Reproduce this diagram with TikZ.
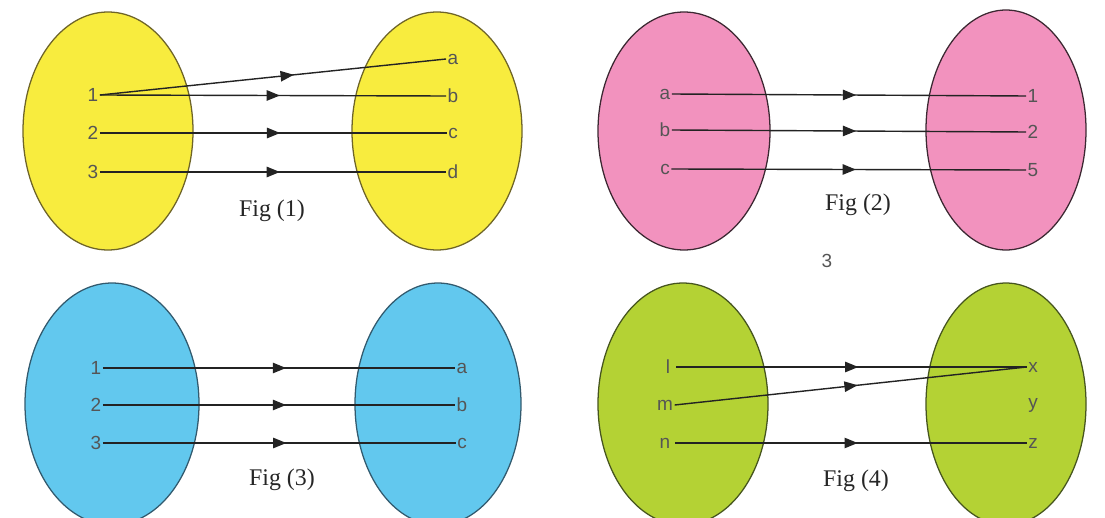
\documentclass[tikz,border=0pt]{standalone}
\usepackage{fontspec}
\setmainfont{Liberation Serif}
\newfontfamily\lab{Liberation Sans}
\usetikzlibrary{arrows.meta,decorations.markings}
\definecolor{yel}{RGB}{248,236,62}
\definecolor{yelo}{RGB}{110,100,40}
\definecolor{pnk}{RGB}{242,146,190}
\definecolor{pnko}{RGB}{60,40,50}
\definecolor{blu}{RGB}{98,200,238}
\definecolor{bluo}{RGB}{50,90,110}
\definecolor{grn}{RGB}{180,210,52}
\definecolor{grno}{RGB}{70,85,30}
\definecolor{labc}{RGB}{85,85,85}
\definecolor{linec}{RGB}{35,35,35}
\tikzset{
  lbl/.style={font=\lab\fontsize{13.5}{15}\selectfont, text=labc, inner sep=1pt, anchor=center},
  figcap/.style={font=\fontsize{17}{19}\selectfont, text=black!85},
  conn/.style={draw=linec, line width=1pt, postaction={decorate},
    decoration={markings, mark=at position #1 with {\arrow{Triangle[length=0.33cm,width=0.26cm]}}}},
  conn/.default=0.52,
  setline/.style={line width=0.9pt}
}
\begin{document}
\begin{tikzpicture}[x=0.025cm,y=-0.025cm]
\useasboundingbox (0,0) rectangle (1105,518);
% ---------- Fig 1 ----------
\draw[setline, fill=yel, draw=yelo] (108,131) ellipse [x radius=85, y radius=119];
\draw[setline, fill=yel, draw=yelo] (437,131) ellipse [x radius=85, y radius=119];
\node[lbl] (f1a1) at (93,95) {1};
\node[lbl] (f1a2) at (93,133) {2};
\node[lbl] (f1a3) at (93,172) {3};
\node[lbl] (f1ba) at (453,59) {a};
\node[lbl] (f1bb) at (453,96) {b};
\node[lbl] (f1bc) at (453,133) {c};
\node[lbl] (f1bd) at (453,172) {d};
\draw[conn=0.56] (f1a1.east) -- (f1ba.west);
\draw[conn] (f1a1.east) -- (f1bb.west);
\draw[conn] (f1a2.east) -- (f1bc.west);
\draw[conn] (f1a3.east) -- (f1bd.west);
\node[figcap] (cap1) at (272,211) {Fig (1)};
% ---------- Fig 2 ----------
\draw[setline, fill=pnk, draw=pnko] (684,131) ellipse [x radius=86, y radius=119];
\draw[setline, fill=pnk, draw=pnko] (1006,130) ellipse [x radius=80, y radius=120];
\node[lbl] (f2aa) at (665,94) {a};
\node[lbl] (f2ab) at (665,130) {b};
\node[lbl] (f2ac) at (665,169) {c};
\node[lbl] (f2b1) at (1033,96) {1};
\node[lbl] (f2b2) at (1033,132) {2};
\node[lbl] (f2b5) at (1033,170) {5};
\draw[conn] (f2aa.east) -- (f2b1.west);
\draw[conn] (f2ab.east) -- (f2b2.west);
\draw[conn] (f2ac.east) -- (f2b5.west);
\node[figcap] (cap2) at (858,205) {Fig (2)};
\node[lbl] (pg) at (827,261) {3};
% ---------- Fig 3 ----------
\draw[setline, fill=blu, draw=bluo] (112,404) ellipse [x radius=87, y radius=121];
\draw[setline, fill=blu, draw=bluo] (438,404) ellipse [x radius=83, y radius=121];
\node[lbl] (f3a1) at (96,368) {1};
\node[lbl] (f3a2) at (96,405) {2};
\node[lbl] (f3a3) at (96,443) {3};
\node[lbl] (f3ba) at (462,368) {a};
\node[lbl] (f3bb) at (462,405) {b};
\node[lbl] (f3bc) at (462,443) {c};
\draw[conn] (f3a1.east) -- (f3ba.west);
\draw[conn] (f3a2.east) -- (f3bb.west);
\draw[conn] (f3a3.east) -- (f3bc.west);
\node[figcap] (cap3) at (282,480) {Fig (3)};
% ---------- Fig 4 ----------
\draw[setline, fill=grn, draw=grno] (683,404) ellipse [x radius=85, y radius=121];
\draw[setline, fill=grn, draw=grno] (1006,404) ellipse [x radius=80, y radius=121];
\node[lbl] (f4al) at (668,367) {l};
\node[lbl] (f4am) at (665,405) {m};
\node[lbl] (f4an) at (665,443) {n};
\node[lbl] (f4bx) at (1033,367) {x};
\node[lbl] (f4by) at (1033,405) {y};
\node[lbl] (f4bz) at (1033,443) {z};
\draw[conn] ([xshift=3pt]f4al.east) -- (f4bx.west);
\draw[conn] (f4am.east) -- (f4bx.west);
\draw[conn] ([xshift=2pt]f4an.east) -- (f4bz.west);
\node[figcap] (cap4) at (856,481) {Fig (4)};
\end{tikzpicture}
\end{document}
